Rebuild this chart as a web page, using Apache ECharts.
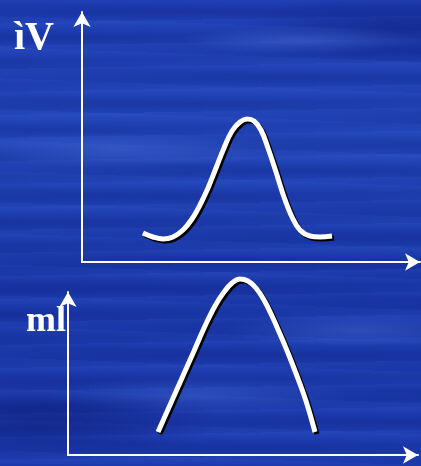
<!DOCTYPE html>
<html>
<head>
<meta charset="utf-8">
<script src="https://cdn.jsdelivr.net/npm/echarts@6/dist/echarts.min.js"></script>
<style>
  html, body { margin: 0; padding: 0; }
  body {
    width: 421px; height: 466px; overflow: hidden;
    background-color: #1c3aae;
    background-image:
      radial-gradient(ellipse 120px 14px at 300px 40px, rgba(90,130,235,0.35), rgba(90,130,235,0)),
      radial-gradient(ellipse 160px 18px at 120px 150px, rgba(90,130,235,0.3), rgba(90,130,235,0)),
      radial-gradient(ellipse 140px 16px at 360px 330px, rgba(90,130,235,0.35), rgba(90,130,235,0)),
      radial-gradient(ellipse 150px 20px at 200px 395px, rgba(90,130,235,0.25), rgba(90,130,235,0)),
      radial-gradient(ellipse 180px 40px at 40px 420px, rgba(8,18,100,0.45), rgba(8,18,100,0)),
      radial-gradient(ellipse 160px 40px at 400px 30px, rgba(8,18,100,0.35), rgba(8,18,100,0)),
      repeating-linear-gradient(179deg, rgba(80,120,230,0.10) 0px, rgba(80,120,230,0) 7px, rgba(10,25,110,0.14) 15px, rgba(80,120,230,0) 23px),
      repeating-linear-gradient(182deg, rgba(90,130,235,0.08) 0px, rgba(0,0,0,0) 11px, rgba(8,20,100,0.12) 19px, rgba(0,0,0,0) 31px),
      linear-gradient(180deg, #1d3cb2 0%, #2144b8 30%, #1a38aa 60%, #1c3bb0 100%);
  }
  #main { width: 421px; height: 466px; }
</style>
</head>
<body>
<div id="main"></div>
<script>
// 上图 (ìV)：曲线读数，单位为相对原点的像素
var topX = [61, 71, 81, 91, 101, 110, 118, 126, 134, 142, 150, 158, 165, 172, 179, 186, 194, 202, 210, 218, 228, 238, 250];
var topY = [29, 25, 23, 25, 32, 43, 57, 74, 94, 114, 131, 140, 143, 141, 132, 114, 90, 65, 45, 32, 26, 25, 26];
// 下图 (ml)
var botX = [90, 102, 114, 126, 137, 147, 156, 164, 172, 180, 188, 196, 204, 212, 220, 229, 238, 247];
var botY = [23, 50, 77, 104, 129, 149, 163, 172, 176, 174, 167, 155, 139, 121, 102, 79, 54, 23];
// 轴标签
var topLabel = 'ìV';
var botLabel = 'ml';

(function () {
  var myChart = echarts.init(document.getElementById('main'));

  function pairs(xs, ys) {
    return xs.map(function (x, i) { return [x, ys[i]]; });
  }

  var axisLine = {
    show: true,
    symbol: ['none', 'arrow'],
    symbolSize: [13, 15],
    lineStyle: { color: '#ffffff', width: 2 }
  };
  function axis(gi, min, max) {
    return {
      type: 'value', gridIndex: gi, min: min, max: max,
      axisLine: axisLine,
      axisTick: { show: false },
      axisLabel: { show: false },
      splitLine: { show: false }
    };
  }
  var curveStyle = {
    color: '#ffffff', width: 5,
    shadowColor: '#000000', shadowBlur: 0, shadowOffsetX: 2, shadowOffsetY: 2
  };

  var option = {
    backgroundColor: 'transparent',
    animation: false,
    grid: [
      { left: 82, top: 12, width: 338, height: 250 },
      { left: 68, top: 292, width: 350, height: 163 }
    ],
    xAxis: [axis(0, 0, 338), axis(1, 0, 350)],
    yAxis: [axis(0, 0, 250), axis(1, 0, 163)],
    graphic: [
      {
        type: 'text', left: 14, top: 19,
        style: { text: topLabel, fill: '#ffffff', font: 'bold 40px "Liberation Serif", serif' }
      },
      {
        type: 'text', left: 26, top: 304,
        style: { text: botLabel, fill: '#ffffff', font: 'bold 36px "Liberation Serif", serif' }
      }
    ],
    series: [
      {
        type: 'line', xAxisIndex: 0, yAxisIndex: 0,
        data: pairs(topX, topY), smooth: 0.4, showSymbol: false, clip: false,
        lineStyle: curveStyle
      },
      {
        type: 'line', xAxisIndex: 1, yAxisIndex: 1,
        data: pairs(botX, botY), smooth: 0.4, showSymbol: false, clip: false,
        lineStyle: curveStyle
      }
    ]
  };

  myChart.setOption(option);
  window.addEventListener('resize', function () {
    myChart.resize();
  });
})();
</script>
</body>
</html>
